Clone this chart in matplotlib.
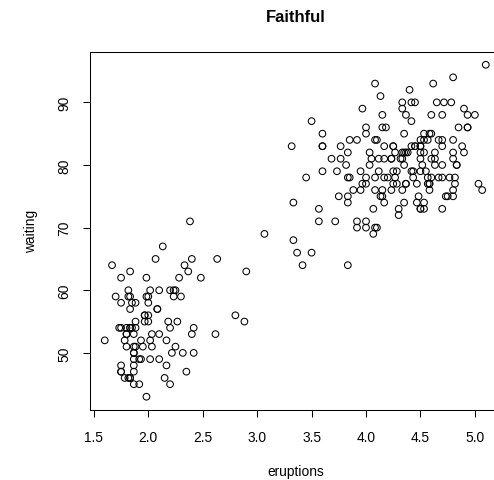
import matplotlib
matplotlib.use("Agg")
import matplotlib.pyplot as plt
import numpy as np

eruptions = [3.600,1.800,3.333,2.283,4.533,2.883,4.700,3.600,1.950,4.350,1.833,3.917,4.200,1.750,4.700,2.167,1.750,4.800,1.600,4.250,
1.800,1.750,3.450,3.067,4.533,3.600,1.967,4.083,3.850,4.433,4.300,4.467,3.367,4.033,3.833,2.017,1.867,4.833,1.833,4.783,
4.350,1.883,4.567,1.750,4.533,3.317,3.833,2.100,4.633,2.000,4.800,4.716,1.833,4.833,1.733,4.883,3.717,1.667,4.567,4.317,
2.233,4.500,1.750,4.800,1.817,4.400,4.167,4.700,2.067,4.700,4.033,1.967,4.500,4.000,1.983,5.067,2.017,4.567,3.883,3.600,
4.133,4.333,4.100,2.633,4.067,4.933,3.950,4.517,2.167,4.000,2.200,4.333,1.867,4.817,1.833,4.300,4.667,3.750,1.867,4.900,
2.483,4.367,2.100,4.500,4.050,1.867,4.700,1.783,4.850,3.683,4.733,2.300,4.900,4.417,1.700,4.633,2.317,4.600,1.817,4.417,
2.617,4.067,4.250,1.967,4.600,3.767,1.917,4.500,2.267,4.650,1.867,4.167,2.800,4.333,1.833,4.383,1.883,4.933,2.033,3.733,
4.233,2.233,4.533,4.817,4.333,1.983,4.633,2.017,5.100,1.800,5.033,4.000,2.400,4.600,3.567,4.000,4.500,4.083,1.800,3.967,
2.200,4.150,2.000,3.833,3.500,4.583,2.367,5.000,1.933,4.617,1.917,2.083,4.583,3.333,4.167,4.333,4.500,2.417,4.000,4.167,
1.883,4.583,4.250,3.767,2.033,4.433,4.083,1.833,4.417,2.183,4.800,1.833,4.800,4.100,3.966,4.233,3.500,4.366,2.250,4.667,
2.100,4.350,4.133,1.867,4.600,1.783,4.367,3.850,1.933,4.500,2.383,4.700,1.867,3.833,3.417,4.233,2.400,4.800,2.000,4.150,
1.867,4.267,1.750,4.483,4.000,4.117,4.083,4.267,3.917,4.550,4.083,2.417,4.183,2.217,4.450,1.883,1.850,4.283,3.950,2.333,
4.150,2.350,4.933,2.900,4.583,3.833,2.083,4.367,2.133,4.350,2.200,4.450,3.567,4.500,4.150,3.817,3.917,4.450,2.000,4.283,
4.767,4.533,1.850,4.250,1.983,2.250,4.750,4.117,2.150,4.417,1.817,4.467]

waiting = [79,54,74,62,85,55,88,85,51,85,54,84,78,47,83,52,62,84,52,79,
51,47,78,69,74,83,55,76,78,79,73,77,66,80,74,52,48,80,59,90,
80,58,84,58,73,83,64,53,82,59,75,90,54,80,54,83,71,64,77,81,
59,84,48,82,60,92,78,78,65,73,82,56,79,71,62,76,60,78,76,83,
75,82,70,65,73,88,76,80,48,86,60,90,50,78,63,72,84,75,51,82,
62,88,49,83,81,47,84,52,86,81,75,59,89,79,59,81,50,85,59,87,
53,69,77,56,88,81,45,82,55,90,45,83,56,89,46,82,51,86,53,79,
81,60,82,77,76,59,80,49,96,53,77,77,65,81,71,70,81,93,53,89,
45,86,58,78,66,76,63,88,52,93,49,57,77,68,81,81,73,50,85,74,
55,77,83,83,51,78,84,46,83,55,81,57,76,84,77,81,87,77,51,78,
60,82,91,53,78,46,77,84,49,83,71,80,49,75,64,76,53,94,55,76,
50,82,54,75,78,79,78,78,70,79,70,54,86,50,90,54,54,77,79,64,
75,47,86,63,85,82,57,82,67,74,54,83,73,73,88,80,71,83,56,79,
78,84,58,83,43,60,75,81,46,90,46,74]

x_ticks = [1.5, 2.0, 2.5, 3.0, 3.5, 4.0, 4.5, 5.0]
y_ticks = [50, 60, 70, 80, 90]

plt.rcParams['font.family'] = ['Liberation Sans', 'DejaVu Sans']

W, H = 494, 481
fig = plt.figure(figsize=(W/100, H/100), dpi=100)
left, right, top, bottom = 89.5, 501, 52.5, 411
ax = fig.add_axes([left/W, 1-bottom/H, (right-left)/W, (bottom-top)/H])

ax.scatter(eruptions, waiting, s=4.8**2, facecolors='none', edgecolors='black', linewidths=0.75)

xr = max(eruptions) - min(eruptions)
yr = max(waiting) - min(waiting)
ax.set_xlim(min(eruptions) - 0.04*xr, max(eruptions) + 0.04*xr)
ax.set_ylim(min(waiting) - 0.04*yr, max(waiting) + 0.04*yr)

ax.set_xticks(x_ticks)
ax.set_xticklabels([f"{v:.1f}" for v in x_ticks])
ax.set_yticks(y_ticks)
ax.set_yticklabels([str(v) for v in y_ticks], rotation=90, va='center')

ax.tick_params(axis='both', direction='out', length=5.0, width=0.75, labelsize=9.9, pad=8, colors='black')
ax.tick_params(axis='x', pad=9.5)
for s in ax.spines.values():
    s.set_linewidth(0.75)
    s.set_color('black')

ax.set_xlabel('eruptions', fontsize=9.9, labelpad=14)
ax.set_ylabel('waiting', fontsize=9.9, labelpad=14)
fig.text((left+right)/2/W, 1-17/H, 'Faithful', ha='center', va='center', fontsize=12, fontweight='bold')

fig.savefig('out.png', dpi=100, facecolor='white')
